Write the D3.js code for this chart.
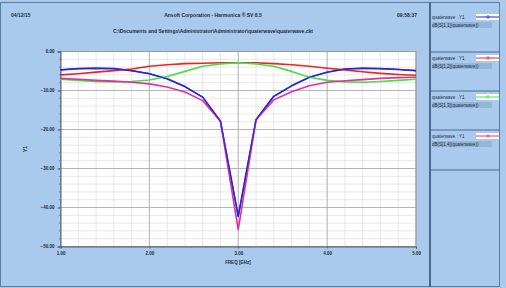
<!DOCTYPE html>
<html><head><meta charset="utf-8">
<script src="https://cdn.jsdelivr.net/npm/d3@7"></script>
<style>html,body{margin:0;padding:0;background:#a9caed;}svg{display:block;font-family:"Liberation Sans",Arial,sans-serif;}</style>
</head><body><svg id="c" width="506" height="288"></svg>
<script>
const freq = [1.0,1.2,1.4,1.6,1.8,2.0,2.2,2.4,2.6,2.8,3.0,3.2,3.4,3.6,3.8,4.0,4.2,4.4,4.6,4.8,5.0];
const s11 = [-4.7,-4.4,-4.3,-4.4,-4.9,-5.7,-7.0,-9.0,-11.7,-17.9,-42.3,-17.5,-11.5,-8.8,-6.6,-5.3,-4.5,-4.3,-4.4,-4.6,-4.9];
const s12 = [-6.0,-5.7,-5.3,-4.9,-4.5,-3.8,-3.4,-3.1,-3.0,-2.9,-2.9,-2.9,-3.1,-3.4,-3.8,-4.3,-4.7,-5.2,-5.6,-5.9,-6.1];
const s13 = [-7.1,-7.4,-7.7,-7.8,-7.7,-7.3,-6.4,-5.1,-3.8,-3.2,-2.9,-3.2,-3.8,-5.1,-6.6,-7.4,-7.8,-7.9,-7.7,-7.4,-7.1];
const s14 = [-6.9,-7.1,-7.4,-7.6,-7.9,-8.3,-9.1,-10.4,-12.6,-17.9,-45.7,-17.5,-12.4,-10.3,-8.8,-7.9,-7.5,-7.2,-6.9,-6.7,-6.6];
const seriesNames = ["dB(S[1,1](quaterwave))","dB(S[1,2](quaterwave))","dB(S[1,3](quaterwave))","dB(S[1,4](quaterwave))"];
const seriesColors = ["#2424d8","#e82424","#44e044","#e0309e"];
const xTicks = [1,2,3,4,5];
const yTicks = [0,-10,-20,-30,-40,-50];
const dateText = "04/12/15", timeText = "09:58:37";
const titleText = "Ansoft Corporation - Harmonica \u00AE SV 8.5";
const subTitle = "C:\\Documents and Settings\\Administrator\\Administrator\\quaterwave\\quaterwave.ckt";

const svg = d3.select("#c");
svg.append("rect").attr("x",0.5).attr("y",2.5).attr("width",499).attr("height",284).attr("fill","#a9caed").attr("stroke","#5d7fa5");
svg.append("line").attr("x1",430).attr("x2",430).attr("y1",2).attr("y2",287).attr("stroke","#4a6890").attr("stroke-width",2);

const L=60.5, R=416, T=51.5, B=246.5;
const x = d3.scaleLinear().domain([1,5]).range([L,R]);
const y = d3.scaleLinear().domain([-50,0]).range([B,T]);
svg.append("rect").attr("x",L).attr("y",T).attr("width",R-L).attr("height",B-T).attr("fill","#fff");
const g = svg.append("g");
d3.range(1,5.001,0.2).forEach(v=>g.append("line").attr("x1",x(v)).attr("x2",x(v)).attr("y1",T).attr("y2",B).attr("stroke","#d6d6d6").attr("stroke-width",0.6));
d3.range(-50,0.001,2).forEach(v=>g.append("line").attr("y1",y(v)).attr("y2",y(v)).attr("x1",L).attr("x2",R).attr("stroke","#d6d6d6").attr("stroke-width",0.6));
xTicks.forEach(v=>g.append("line").attr("x1",x(v)).attr("x2",x(v)).attr("y1",T).attr("y2",B).attr("stroke","#a8a8a8").attr("stroke-width",0.8));
yTicks.forEach(v=>g.append("line").attr("y1",y(v)).attr("y2",y(v)).attr("x1",L).attr("x2",R).attr("stroke","#a8a8a8").attr("stroke-width",0.8));
svg.append("rect").attr("x",L).attr("y",T).attr("width",R-L).attr("height",B-T).attr("fill","none").attr("stroke","#9a9a9a");

const yAx = svg.append("g").attr("transform",`translate(${L},0)`).call(d3.axisLeft(y).tickValues(yTicks).tickSize(3).tickFormat(d3.format(".2f")));
const xAx = svg.append("g").attr("transform",`translate(0,${B})`).call(d3.axisBottom(x).tickValues(xTicks).tickSize(2).tickFormat(d3.format(".2f")));
[yAx,xAx].forEach(a=>{a.selectAll("text").attr("font-size",4.5).attr("font-weight","bold").attr("fill","#1a2a40");a.selectAll("line,path").attr("stroke","#55606e");});
d3.range(-50,0.001,2).forEach(v=>svg.append("line").attr("x1",L-1.5).attr("x2",L).attr("y1",y(v)).attr("y2",y(v)).attr("stroke","#55606e").attr("stroke-width",0.6));

const line = d3.line().x((d,i)=>x(freq[i])).y(d=>y(d));
[s11,s12,s13,s14].forEach((s,k)=>{
  svg.append("path").datum(s).attr("d",line).attr("fill","none").attr("stroke",seriesColors[k]).attr("stroke-width",1.6).attr("stroke-linejoin","round");
});
svg.append("path").datum(s11).attr("d",line).attr("fill","none").attr("stroke",seriesColors[0]).attr("stroke-width",1.3).attr("opacity",0.8);

const txt=(t,xx,yy,opt={})=>svg.append("text").text(t).attr("x",xx).attr("y",yy).attr("font-size",opt.fs||5).attr("font-weight",opt.fw||"bold").attr("fill","#1a2a40").attr("text-anchor",opt.a||"start");
txt(dateText,11,17);
txt(titleText,213,17,{a:"middle"});
txt(timeText,417,17,{a:"end"});
txt(subTitle,213,33,{a:"middle"});
txt("FREQ [GHz]",238,264,{a:"middle",fs:4.5});
svg.append("text").text("Y1").attr("transform","translate(27,149) rotate(-90)").attr("font-size",5).attr("font-weight","bold").attr("fill","#1a2a40").attr("text-anchor","middle");

const legY=[17,58,97,136];
[52,91,130,170].forEach(v=>svg.append("line").attr("x1",431).attr("x2",500).attr("y1",v).attr("y2",v).attr("stroke","#4a6890").attr("stroke-width",1));
seriesNames.forEach((n,k)=>{
  const yy=legY[k];
  svg.append("text").text("quaterwave : Y1").attr("x",432).attr("y",yy+1.5).attr("font-size",4.5).attr("fill","#1a2a40");
  svg.append("rect").attr("x",476).attr("y",yy-3).attr("width",23).attr("height",6).attr("fill","#fff");
  svg.append("line").attr("x1",476).attr("x2",499).attr("y1",yy).attr("y2",yy).attr("stroke",seriesColors[k]).attr("stroke-width",1);
  svg.append("circle").attr("cx",488).attr("cy",yy).attr("r",1.3).attr("fill","none").attr("stroke",seriesColors[k]).attr("stroke-width",0.6);
  svg.append("rect").attr("x",432).attr("y",yy+5).attr("width",60).attr("height",6).attr("fill","#96b6d8");
  svg.append("text").text(n).attr("x",432).attr("y",yy+9.5).attr("font-size",4.5).attr("fill","#1a2a40");
});
</script></body></html>
